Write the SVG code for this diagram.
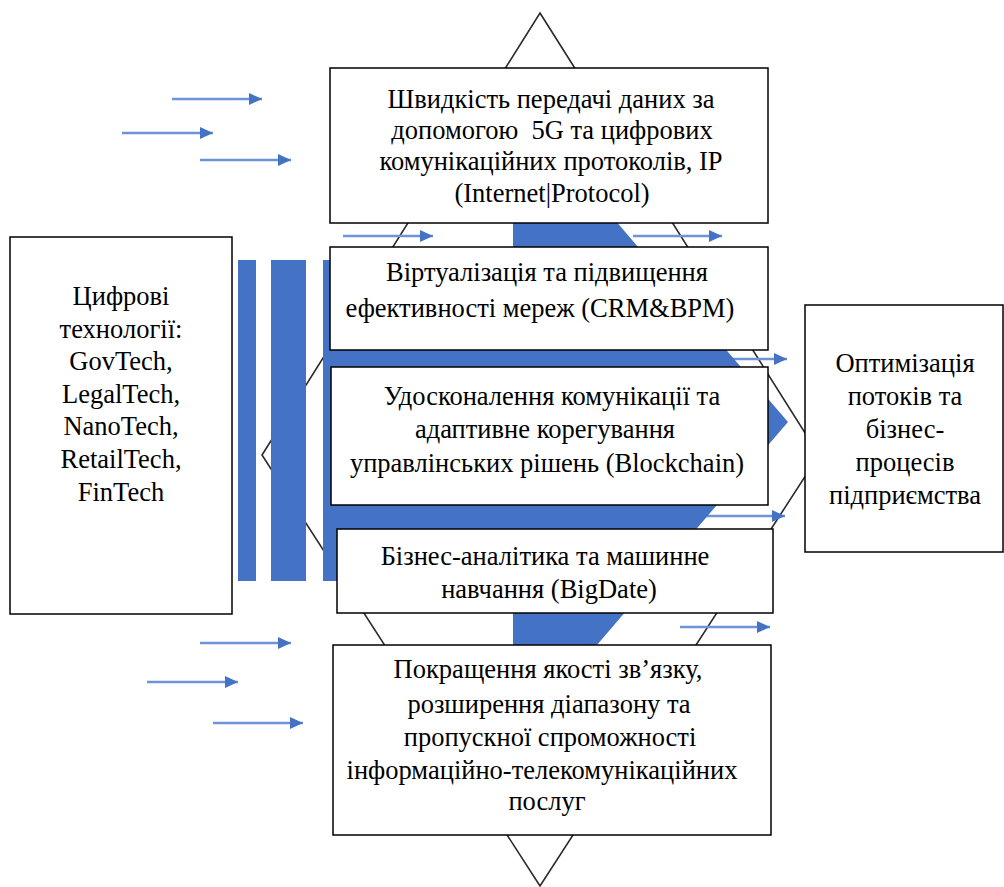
<svg xmlns="http://www.w3.org/2000/svg" width="1004" height="887" viewBox="0 0 1004 887">
<style>
.box{fill:#fff;stroke:#000;stroke-width:1.5}
.t{font-family:"Liberation Serif","Times New Roman",serif;font-size:26.5px;fill:#000;text-anchor:middle}
.dia{fill:none;stroke:#2a2a2a;stroke-width:1.6}
.al{stroke:#6d93d8;stroke-width:2.6}
.blue{fill:#4472c4}
</style>
<defs>
<marker id="ah" viewBox="0 0 13 12" refX="13" refY="6" markerWidth="13" markerHeight="12" markerUnits="userSpaceOnUse" orient="auto">
<path d="M0,0 L13,6 L0,12 z" fill="#4472c4"/>
</marker>
</defs>
<rect width="1004" height="887" fill="#fff"/>
<g id="background">
<polygon class="dia" points="540,13 819,455 540,886 262,455"/>
</g>
<g id="connectors">
<line class="al" x1="172" y1="99" x2="262" y2="99" marker-end="url(#ah)"/>
<line class="al" x1="122" y1="133" x2="213" y2="133" marker-end="url(#ah)"/>
<line class="al" x1="200" y1="160" x2="291" y2="160" marker-end="url(#ah)"/>
<line class="al" x1="343" y1="236" x2="433" y2="236" marker-end="url(#ah)"/>
<line class="al" x1="633" y1="236" x2="722" y2="236" marker-end="url(#ah)"/>
<line class="al" x1="697" y1="359" x2="787" y2="359" marker-end="url(#ah)"/>
<line class="al" x1="695" y1="516" x2="785" y2="516" marker-end="url(#ah)"/>
<line class="al" x1="680" y1="627" x2="770" y2="627" marker-end="url(#ah)"/>
<line class="al" x1="200" y1="643" x2="291" y2="643" marker-end="url(#ah)"/>
<line class="al" x1="147" y1="682" x2="238" y2="682" marker-end="url(#ah)"/>
<line class="al" x1="213" y1="723" x2="303" y2="723" marker-end="url(#ah)"/>
</g>
<g id="striped-arrow">
<rect class="blue" x="238" y="260" width="18" height="321"/>
<rect class="blue" x="271" y="260" width="35" height="321"/>
<polygon class="blue" points="323,260 513,260 513,101 788,422 513,743 513,581 323,581"/>
</g>
<g id="node-speed">
<rect class="box" x="330" y="68" width="438" height="155"/>
<text class="t" x="551" y="108">Швидкість передачі даних за</text>
<text class="t" x="552" y="139">допомогою&#160; 5G та цифрових</text>
<text class="t" x="551" y="170">комунікаційних протоколів, IP</text>
<text class="t" x="552" y="202">(Internet|Protocol)</text>
</g>
<g id="node-virtual">
<rect class="box" x="330" y="247" width="438" height="103"/>
<text class="t" x="547" y="281">Віртуалізація та підвищення</text>
<text class="t" x="540" y="317">ефективності мереж (CRM&amp;BPM)</text>
</g>
<g id="node-communication">
<rect class="box" x="331" y="367" width="437" height="138"/>
<text class="t" x="552" y="405">Удосконалення комунікації та</text>
<text class="t" x="545" y="438">адаптивне корегування</text>
<text class="t" x="547" y="472">управлінських рішень (Blockchain)</text>
</g>
<g id="node-analytics">
<rect class="box" x="337" y="529" width="436" height="84"/>
<text class="t" x="545" y="565">Бізнес-аналітика та машинне</text>
<text class="t" x="549" y="598">навчання (BigDate)</text>
</g>
<g id="node-quality">
<rect class="box" x="333" y="645" width="438" height="190"/>
<text class="t" x="548" y="678">Покращення якості зв’язку,</text>
<text class="t" x="549" y="713">розширення діапазону та</text>
<text class="t" x="550" y="746">пропускної спроможності</text>
<text class="t" x="542" y="779">інформаційно-телекомунікаційних</text>
<text class="t" x="547" y="810">послуг</text>
</g>
<g id="node-digital">
<rect class="box" x="10" y="237" width="222" height="377"/>
<text class="t" x="121" y="305">Цифрові</text>
<text class="t" x="121" y="338">технології:</text>
<text class="t" x="121" y="370">GovTech,</text>
<text class="t" x="121" y="403">LegalTech,</text>
<text class="t" x="121" y="435">NanoTech,</text>
<text class="t" x="121" y="468">RetailTech,</text>
<text class="t" x="121" y="501">FinTech</text>
</g>
<g id="node-optimization">
<rect class="box" x="805" y="305" width="198" height="247"/>
<text class="t" x="905" y="372">Оптимізація</text>
<text class="t" x="905" y="405">потоків та</text>
<text class="t" x="905" y="438">бізнес-</text>
<text class="t" x="905" y="471">процесів</text>
<text class="t" x="905" y="504">підприємства</text>
</g>
</svg>
